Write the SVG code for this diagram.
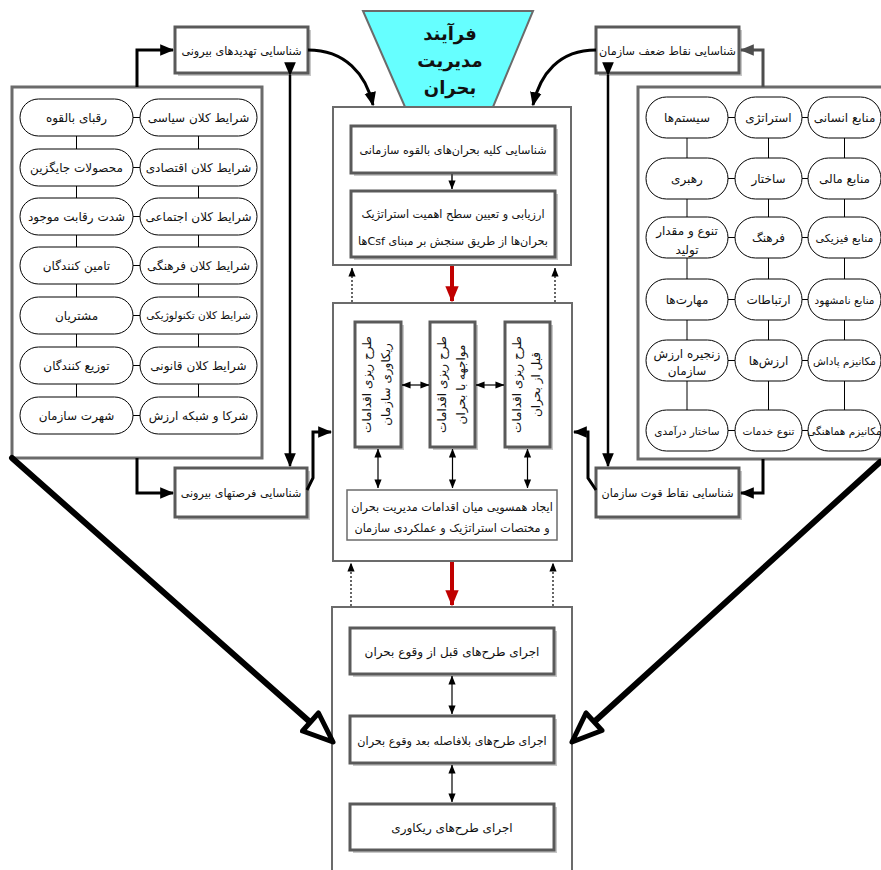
<svg xmlns="http://www.w3.org/2000/svg" width="881" height="870" viewBox="0 0 881 870">
<style>
text{font-family:"DejaVu Sans","Noto Sans",sans-serif;fill:#111;text-anchor:middle;direction:rtl}
.t{font-size:12px}
.b{font-size:11.2px}
.s{font-size:10.5px}
.m{font-size:11px}
.box{fill:#fff;stroke:#5a5a5a;stroke-width:3}
.shadow{fill:#c8c8c8;stroke:none}
.outer{fill:#fff;stroke:#6b6b6b;stroke-width:2}
.panel{fill:#fff;stroke:#6b6b6b;stroke-width:3}
.pill{fill:#fff;stroke:#000;stroke-width:1}
.thin{fill:#fff;stroke:#6b6b6b;stroke-width:1.5}
.ln{stroke:#000;stroke-width:1;fill:none}
.ar{stroke:#000;stroke-width:3;fill:none}
.dbl{stroke:#000;stroke-width:1.2;fill:none;marker-start:url(#sh);marker-end:url(#sh)}
.dot{stroke:#000;stroke-width:1.2;fill:none;stroke-dasharray:2 2;marker-end:url(#sh)}
.big{stroke:#000;stroke-width:6;fill:none;stroke-linecap:round}
.head{fill:#fff;stroke:#000;stroke-width:5;stroke-linejoin:round}
.ti{font-size:18px;font-weight:bold}
</style>
<defs>
<marker id="ah" viewBox="0 0 12 10" refX="11" refY="5" markerWidth="14" markerHeight="12" markerUnits="userSpaceOnUse" orient="auto"><path d="M0,0 L12,5 L0,10 Z" fill="#000"/></marker>
<marker id="ahg" viewBox="0 0 12 10" refX="11" refY="5" markerWidth="14" markerHeight="12" markerUnits="userSpaceOnUse" orient="auto"><path d="M0,0 L12,5 L0,10 Z" fill="#4d4d4d"/></marker>
<marker id="sh" viewBox="0 0 10 8" refX="9.5" refY="4" markerWidth="9" markerHeight="8" markerUnits="userSpaceOnUse" orient="auto-start-reverse"><path d="M0,0 L10,4 L0,8 Z" fill="#000"/></marker>
<marker id="red" viewBox="0 0 12 10" refX="11" refY="5" markerWidth="16" markerHeight="16" markerUnits="userSpaceOnUse" orient="auto"><path d="M0,0 L12,5 L0,10 Z" fill="#c00000"/></marker>
</defs>

<!-- Left panel: external environment -->
<g id="left-panel">
<rect class="panel" x="12" y="87" width="250" height="371"/>
<g class="ln">
<path d="M133,117.5 H140 M133,167.5 H140 M133,216.5 H140 M133,265.5 H140 M133,315.5 H140 M133,365.5 H140 M133,415.5 H140"/>
<path d="M76.5,136 V149 M76.5,186 V198 M76.5,235 V247 M76.5,284 V297 M76.5,334 V347 M76.5,384 V397"/>
<path d="M198.5,136 V149 M198.5,186 V198 M198.5,235 V247 M198.5,284 V297 M198.5,334 V347 M198.5,384 V397"/>
</g>
<g id="l-r1"><rect class="pill" x="140" y="99" width="117" height="37" rx="18.5"/><text class="t" x="198.5" y="122">شرایط کلان سیاسی</text></g>
<g id="l-r2"><rect class="pill" x="140" y="149" width="117" height="37" rx="18.5"/><text class="t" x="198.5" y="172">شرایط کلان اقتصادی</text></g>
<g id="l-r3"><rect class="pill" x="140" y="198" width="117" height="37" rx="18.5"/><text class="t" x="198.5" y="221">شرایط کلان اجتماعی</text></g>
<g id="l-r4"><rect class="pill" x="140" y="247" width="117" height="37" rx="18.5"/><text class="t" x="198.5" y="270">شرایط کلان فرهنگی</text></g>
<g id="l-r5"><rect class="pill" x="140" y="297" width="117" height="37" rx="18.5"/><text class="s" x="198.5" y="319">شرایط کلان تکنولوژیکی</text></g>
<g id="l-r6"><rect class="pill" x="140" y="347" width="117" height="37" rx="18.5"/><text class="t" x="198.5" y="370">شرایط کلان قانونی</text></g>
<g id="l-r7"><rect class="pill" x="140" y="397" width="117" height="37" rx="18.5"/><text class="t" x="198.5" y="420">شرکا و شبکه ارزش</text></g>
<g id="l-l1"><rect class="pill" x="20" y="99" width="113" height="37" rx="18.5"/><text class="t" x="76.5" y="122">رقبای بالقوه</text></g>
<g id="l-l2"><rect class="pill" x="20" y="149" width="113" height="37" rx="18.5"/><text class="t" x="76.5" y="172">محصولات جایگزین</text></g>
<g id="l-l3"><rect class="pill" x="20" y="198" width="113" height="37" rx="18.5"/><text class="t" x="76.5" y="221">شدت رقابت موجود</text></g>
<g id="l-l4"><rect class="pill" x="20" y="247" width="113" height="37" rx="18.5"/><text class="t" x="76.5" y="270">تامین کنندگان</text></g>
<g id="l-l5"><rect class="pill" x="20" y="297" width="113" height="37" rx="18.5"/><text class="t" x="76.5" y="320">مشتریان</text></g>
<g id="l-l6"><rect class="pill" x="20" y="347" width="113" height="37" rx="18.5"/><text class="t" x="76.5" y="370">توزیع کنندگان</text></g>
<g id="l-l7"><rect class="pill" x="20" y="397" width="113" height="37" rx="18.5"/><text class="t" x="76.5" y="420">شهرت سازمان</text></g>
</g>

<!-- Right panel: internal environment -->
<g id="right-panel">
<rect class="panel" x="638" y="87" width="250" height="372"/>
<g class="ln">
<path d="M728,117.5 H735 M802,117.5 H808 M728,178.5 H735 M802,178.5 H808 M728,237.5 H735 M802,237.5 H808 M728,299.5 H735 M802,299.5 H808 M728,360.5 H735 M802,360.5 H808 M728,430.5 H735 M802,430.5 H808"/>
<path d="M687,138 V158 M687,199 V217 M687,258 V279 M687,320 V340 M687,381 V410"/>
<path d="M768.5,138 V158 M768.5,199 V217 M768.5,258 V279 M768.5,320 V340 M768.5,381 V410"/>
<path d="M844.5,138 V158 M844.5,199 V217 M844.5,258 V279 M844.5,320 V340 M844.5,381 V410"/>
</g>
<g id="r-c3-1"><rect class="pill" x="808" y="97" width="73" height="41" rx="20.5"/><text class="t" x="844.5" y="122">منابع انسانی</text></g>
<g id="r-c2-1"><rect class="pill" x="735" y="97" width="67" height="41" rx="20.5"/><text class="t" x="768.5" y="122">استراتژی</text></g>
<g id="r-c1-1"><rect class="pill" x="646" y="97" width="82" height="41" rx="20.5"/><text class="t" x="687" y="122">سیستم‌ها</text></g>
<g id="r-c3-2"><rect class="pill" x="808" y="158" width="73" height="41" rx="20.5"/><text class="t" x="844.5" y="183">منابع مالی</text></g>
<g id="r-c2-2"><rect class="pill" x="735" y="158" width="67" height="41" rx="20.5"/><text class="t" x="768.5" y="183">ساختار</text></g>
<g id="r-c1-2"><rect class="pill" x="646" y="158" width="82" height="41" rx="20.5"/><text class="t" x="687" y="183">رهبری</text></g>
<g id="r-c3-3"><rect class="pill" x="808" y="217" width="73" height="41" rx="20.5"/><text class="m" x="844.5" y="242">منابع فیزیکی</text></g>
<g id="r-c2-3"><rect class="pill" x="735" y="217" width="67" height="41" rx="20.5"/><text class="t" x="768.5" y="242">فرهنگ</text></g>
<g id="r-c1-3"><rect class="pill" x="646" y="217" width="82" height="41" rx="20.5"/><text class="t" x="687" y="235">تنوع و مقدار</text><text class="t" x="687" y="254">تولید</text></g>
<g id="r-c3-4"><rect class="pill" x="808" y="279" width="73" height="41" rx="20.5"/><text class="s" x="844.5" y="304">منابع نامشهود</text></g>
<g id="r-c2-4"><rect class="pill" x="735" y="279" width="67" height="41" rx="20.5"/><text class="t" x="768.5" y="304">ارتباطات</text></g>
<g id="r-c1-4"><rect class="pill" x="646" y="279" width="82" height="41" rx="20.5"/><text class="t" x="687" y="304">مهارت‌ها</text></g>
<g id="r-c3-5"><rect class="pill" x="808" y="340" width="73" height="41" rx="20.5"/><text class="s" x="844.5" y="365">مکانیزم پاداش</text></g>
<g id="r-c2-5"><rect class="pill" x="735" y="340" width="67" height="41" rx="20.5"/><text class="t" x="768.5" y="365">ارزش‌ها</text></g>
<g id="r-c1-5"><rect class="pill" x="646" y="340" width="82" height="41" rx="20.5"/><text class="t" x="687" y="358">زنجیره ارزش</text><text class="t" x="687" y="375">سازمان</text></g>
<g id="r-c3-6"><rect class="pill" x="808" y="410" width="73" height="41" rx="20.5"/><text class="s" x="844.5" y="435">مکانیزم هماهنگی</text></g>
<g id="r-c2-6"><rect class="pill" x="735" y="410" width="67" height="41" rx="20.5"/><text class="s" x="768.5" y="435">تنوع خدمات</text></g>
<g id="r-c1-6"><rect class="pill" x="646" y="410" width="82" height="41" rx="20.5"/><text class="s" x="687" y="435">ساختار درآمدی</text></g>
</g>

<!-- SWOT identification boxes -->
<g id="threats"><rect class="shadow" x="178" y="30" width="133" height="46"/><rect class="box" x="175" y="27" width="133" height="46"/><text class="b" x="241.5" y="55">شناسایی تهدیدهای بیرونی</text></g>
<g id="opportunities"><rect class="shadow" x="178" y="471" width="132" height="49"/><rect class="box" x="175" y="468" width="132" height="49"/><text class="b" x="241" y="497">شناسایی فرصتهای بیرونی</text></g>
<g id="weaknesses"><rect class="shadow" x="599" y="30" width="143" height="46"/><rect class="box" x="596" y="27" width="143" height="46"/><text class="b" x="667.5" y="55">شناسایی نقاط ضعف سازمان</text></g>
<g id="strengths"><rect class="shadow" x="599" y="471" width="143" height="49"/><rect class="box" x="596" y="468" width="143" height="49"/><text class="b" x="667.5" y="497">شناسایی نقاط قوت سازمان</text></g>

<!-- Funnel title -->
<g id="title">
<polygon points="363,11 533,11 493,107 405,107" fill="#66ffff" stroke="#6b6b6b" stroke-width="2"/>
<text class="ti" x="450" y="40">فرآیند</text>
<text class="ti" x="450" y="67">مدیریت</text>
<text class="ti" x="450" y="94">بحران</text>
</g>

<!-- Stage 1 -->
<g id="stage1">
<rect class="outer" x="333" y="107" width="238" height="158"/>
<g id="s1-a"><rect class="shadow" x="354" y="129" width="204" height="47"/><rect class="box" x="351" y="126" width="204" height="47"/><text class="b" x="453" y="154">شناسایی کلیه بحران‌های بالقوه سازمانی</text></g>
<g id="s1-b"><rect class="shadow" x="354" y="194" width="204" height="66"/><rect class="box" x="351" y="191" width="204" height="66"/><text class="b" x="453" y="218">ارزیابی و تعیین سطح اهمیت استراتژیک</text><text class="b" x="453" y="245">بحران‌ها از طریق سنجش بر مبنای Csfها</text></g>
</g>

<!-- Stage 2 -->
<g id="stage2">
<rect class="outer" x="333" y="303" width="239" height="258"/>
<g id="s2-recovery"><rect class="shadow" x="358" y="325" width="46" height="125"/><rect class="box" x="355" y="322" width="46" height="125"/>
<g transform="translate(378,384.5) rotate(-90)"><text class="t" x="0" y="-7">طرح ریزی اقدامات</text><text class="t" x="0" y="12">ریکاوری سازمان</text></g></g>
<g id="s2-response"><rect class="shadow" x="433" y="325" width="45" height="125"/><rect class="box" x="430" y="322" width="45" height="125"/>
<g transform="translate(452.5,384.5) rotate(-90)"><text class="t" x="0" y="-7">طرح ریزی اقدامات</text><text class="t" x="0" y="12">مواجهه با بحران</text></g></g>
<g id="s2-pre"><rect class="shadow" x="508" y="325" width="45" height="125"/><rect class="box" x="505" y="322" width="45" height="125"/>
<g transform="translate(527.5,384.5) rotate(-90)"><text class="t" x="0" y="-7">طرح ریزی اقدامات</text><text class="t" x="0" y="12">قبل از بحران</text></g></g>
<g id="s2-align"><rect class="thin" x="347" y="490" width="210" height="50"/><text class="b" x="452" y="511">ایجاد همسویی میان اقدامات مدیریت بحران</text><text class="b" x="452" y="532">و مختصات استراتژیک و عملکردی سازمان</text></g>
</g>

<!-- Stage 3 -->
<g id="stage3">
<rect class="outer" x="332" y="607" width="240" height="280"/>
<g id="s3-a"><rect class="shadow" x="353" y="631" width="204" height="46"/><rect class="box" x="350" y="628" width="204" height="46"/><text class="t" x="452" y="656">اجرای طرح‌های قبل از وقوع بحران</text></g>
<g id="s3-b"><rect class="shadow" x="353" y="719" width="204" height="47"/><rect class="box" x="350" y="716" width="204" height="47"/><text class="b" x="452" y="745">اجرای طرح‌های بلافاصله بعد وقوع بحران</text></g>
<g id="s3-c"><rect class="shadow" x="353" y="807" width="204" height="46"/><rect class="box" x="350" y="804" width="204" height="46"/><text class="t" x="452" y="832">اجرای طرح‌های ریکاوری</text></g>
</g>

<!-- Connectors -->
<g id="connectors">
<path class="ar" d="M137,87 V50 H173" marker-end="url(#ah)"/>
<path class="ar" d="M137,458 V493 H173" marker-end="url(#ah)"/>
<path d="M763,87 V50 H741" stroke="#4d4d4d" stroke-width="3" fill="none" marker-end="url(#ahg)"/>
<path class="ar" d="M763,459 V493 H741" marker-end="url(#ah)"/>
<path class="ar" d="M290,75 V466" marker-start="url(#ah)" marker-end="url(#ah)" style="stroke-width:2.5"/>
<path class="ar" d="M608,75 V466" marker-start="url(#ah)" marker-end="url(#ah)" style="stroke-width:2.5"/>
<path class="ar" d="M308,50 C345,50 366,74 373,105" marker-end="url(#ah)"/>
<path class="ar" d="M596,50 C559,50 540,74 533,105" marker-end="url(#ah)"/>
<path class="ar" d="M307,490 L313,478 V432 H331" marker-end="url(#ah)"/>
<path class="ar" d="M596,490 L588,478 V432 H574" marker-end="url(#ah)"/>
<path d="M452,174 V189" stroke="#4d4d4d" stroke-width="2" fill="none" marker-end="url(#sh)"/>
<path d="M452,266 V301" stroke="#c00000" stroke-width="4" fill="none" marker-end="url(#red)"/>
<path d="M452,562 V605" stroke="#c00000" stroke-width="4" fill="none" marker-end="url(#red)"/>
<path class="dot" d="M352,302 V268"/>
<path class="dot" d="M555,302 V268"/>
<path class="dot" d="M351,606 V563"/>
<path class="dot" d="M553,606 V563"/>
<path class="dbl" d="M402,385 H429"/>
<path class="dbl" d="M476,385 H504"/>
<path class="dbl" d="M378,449 V488"/>
<path class="dbl" d="M452.5,449 V488"/>
<path class="dbl" d="M527.5,449 V488"/>
<path class="dbl" d="M452,676 V714"/>
<path class="dbl" d="M452,765 V802"/>
<path class="big" d="M12,458 L310,722"/>
<polygon class="head" points="333,742 302.5,731 318.5,713"/>
<path class="big" d="M880,462 L594,722"/>
<polygon class="head" points="572,742 602,730.5 586,713"/>
</g>
</svg>
